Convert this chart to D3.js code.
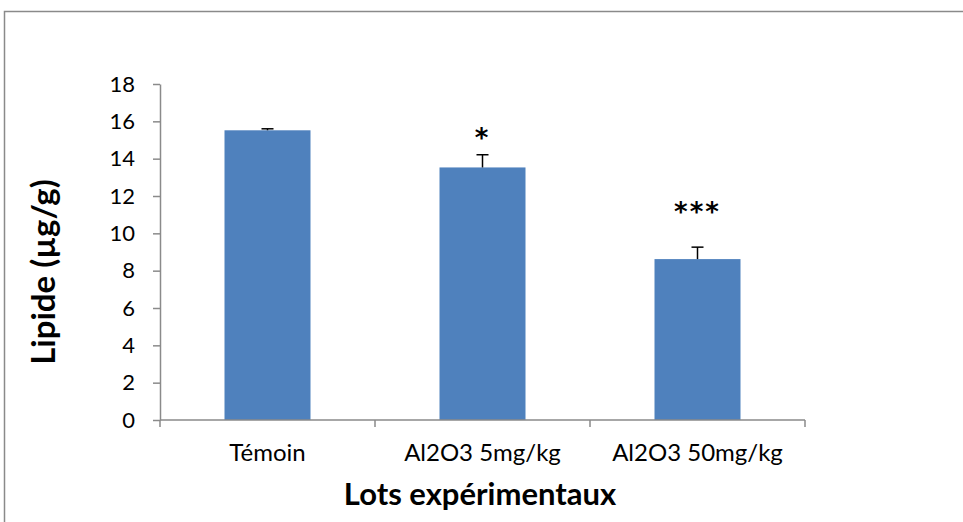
<!DOCTYPE html>
<html>
<head>
<meta charset="utf-8">
<script src="https://cdn.jsdelivr.net/npm/d3@7"></script>
<style>
	body { margin: 0; background: #fff; }
	svg { display: block; font-family: Lato, "Open Sans", sans-serif; }
</style>
</head>
<body>
<svg id="chart" width="963" height="522"></svg>
<script>
// data
var categories = ["Témoin", "Al2O3 5mg/kg", "Al2O3 50mg/kg"];
var values = [15.52, 13.53, 8.62];
var errors = [0.08, 0.68, 0.64];
var stars = ["", "*", "***"];
var starLevels = [0, 15.4, 11.4];
var yTicks = [0, 2, 4, 6, 8, 10, 12, 14, 16, 18];

var svg = d3.select("#chart");

// outer frame
svg.append("rect")
	.attr("x", 4.5)
	.attr("y", 11.5)
	.attr("width", 1000)
	.attr("height", 600)
	.attr("fill", "none")
	.attr("stroke", "#8a8a8a")
	.attr("stroke-width", 1.5);

var margin = {top: 84, left: 160},
	width = 645,
	height = 336;

var x = d3.scaleBand()
	.domain(categories)
	.range([0, width])
	.paddingInner(0.6)
	.paddingOuter(0.3);

var y = d3.scaleLinear()
	.domain([0, 18])
	.range([height, 0]);

var g = svg.append("g")
	.attr("transform", "translate(" + margin.left + "," + margin.top + ")");

// bars
g.selectAll(".bar")
	.data(values)
	.enter().append("rect")
	.attr("class", "bar")
	.attr("x", function(d, i) { return x(categories[i]); })
	.attr("y", function(d) { return y(d); })
	.attr("width", x.bandwidth())
	.attr("height", function(d) { return height - y(d); })
	.attr("fill", "#4f81bd");

// error bars (upper only)
var errG = g.selectAll(".err")
	.data(values)
	.enter().append("g")
	.attr("class", "err");
errG.append("line")
	.attr("x1", function(d, i) { return x(categories[i]) + x.bandwidth() / 2; })
	.attr("x2", function(d, i) { return x(categories[i]) + x.bandwidth() / 2; })
	.attr("y1", function(d) { return y(d); })
	.attr("y2", function(d, i) { return y(d + errors[i]); })
	.attr("stroke", "#000")
	.attr("stroke-width", 1.5);
errG.append("line")
	.attr("x1", function(d, i) { return x(categories[i]) + x.bandwidth() / 2 - 6; })
	.attr("x2", function(d, i) { return x(categories[i]) + x.bandwidth() / 2 + 6; })
	.attr("y1", function(d, i) { return y(d + errors[i]); })
	.attr("y2", function(d, i) { return y(d + errors[i]); })
	.attr("stroke", "#000")
	.attr("stroke-width", 1.5);

// significance stars (asterisk glyph sits high, so shift baseline down)
g.selectAll(".star")
	.data(starLevels)
	.enter().append("text")
	.attr("class", "star")
	.attr("x", function(d, i) { return x(categories[i]) + x.bandwidth() / 2; })
	.attr("y", function(d) { return y(d) + 14; })
	.attr("text-anchor", "middle")
	.attr("font-family", "'DejaVu Sans', sans-serif")
	.attr("font-size", "26px")
	.attr("font-weight", "bold")
	.attr("letter-spacing", "2px")
	.attr("fill", "#000")
	.text(function(d, i) { return stars[i]; });

// y axis
var yAxis = d3.axisLeft(y)
	.tickValues(yTicks)
	.tickSize(7)
	.tickSizeOuter(0)
	.tickPadding(18);
var yg = g.append("g").call(yAxis);
yg.select(".domain").attr("stroke", "#8a8a8a").attr("stroke-width", 1.5);
yg.selectAll(".tick line").attr("stroke", "#8a8a8a").attr("stroke-width", 1.5);
yg.selectAll(".tick text").attr("font-size", "22px").attr("fill", "#000").attr("font-family", "Lato, sans-serif");

// x axis: ticks at category boundaries
var xg = g.append("g").attr("transform", "translate(0," + height + ")");
xg.append("line")
	.attr("x1", 0).attr("x2", width)
	.attr("stroke", "#8a8a8a").attr("stroke-width", 1.5);
var bounds = [0].concat(categories.map(function(c) { return x(c) + x.bandwidth() / 2 + x.step() / 2; }));
xg.selectAll(".xtick")
	.data(bounds)
	.enter().append("line")
	.attr("x1", function(d) { return d; })
	.attr("x2", function(d) { return d; })
	.attr("y1", 0).attr("y2", 7)
	.attr("stroke", "#8a8a8a").attr("stroke-width", 1.5);
xg.selectAll(".xlab")
	.data(categories)
	.enter().append("text")
	.attr("x", function(d) { return x(d) + x.bandwidth() / 2; })
	.attr("y", 41)
	.attr("text-anchor", "middle")
	.attr("font-size", "24px")
	.attr("fill", "#000")
	.text(function(d) { return d; });

// axis titles
svg.append("text")
	.attr("transform", "translate(55,272) rotate(-90)")
	.attr("text-anchor", "middle")
	.attr("font-size", "33px")
	.attr("font-weight", "bold")
	.attr("fill", "#000")
	.text("Lipide (µg/g)");

svg.append("text")
	.attr("x", 480)
	.attr("y", 505)
	.attr("text-anchor", "middle")
	.attr("font-size", "31px")
	.attr("font-weight", "bold")
	.attr("fill", "#000")
	.text("Lots expérimentaux");
</script>
</body>
</html>
